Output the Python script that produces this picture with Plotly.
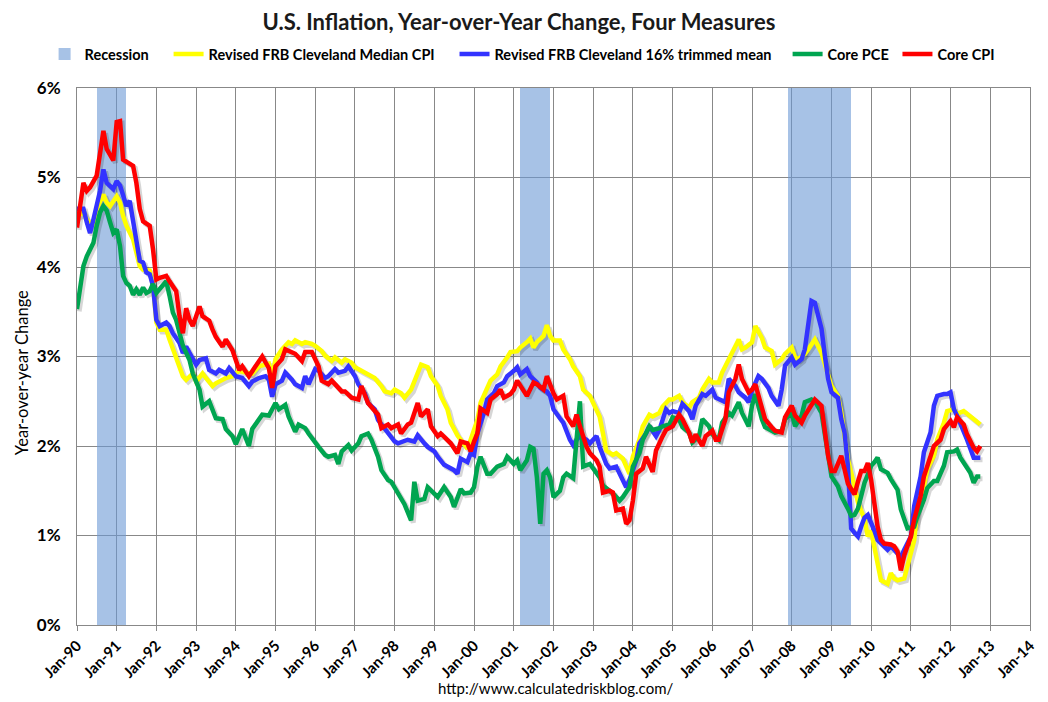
import pandas as pd
import plotly.graph_objects as go

# ---------------- data ----------------
recession_start = ["1990-07-01", "2001-03-01", "2007-12-01"]
recession_end = ["1991-04-01", "2001-12-01", "2009-06-28"]

median_dates = ["1990-01","1990-03","1990-04","1990-06","1990-07","1990-09","1990-10","1990-11","1991-01","1991-02","1991-03","1991-04","1991-06","1991-07","1991-08","1991-09","1991-11","1991-12","1992-01","1992-02","1992-04","1992-05","1992-06","1992-07","1992-09","1992-10","1992-12","1993-01","1993-03","1993-04","1993-06","1993-07","1993-09","1993-10","1993-12","1994-02","1994-04","1994-06","1994-08","1994-11","1994-12","1995-01","1995-03","1995-05","1995-06","1995-07","1995-09","1995-10","1995-12","1996-01","1996-03","1996-04","1996-06","1996-07","1996-09","1996-10","1996-12","1997-01","1997-03","1997-05","1997-07","1997-09","1997-10","1997-12","1998-01","1998-03","1998-04","1998-06","1998-08","1998-09","1998-11","1998-12","1999-02","1999-03","1999-05","1999-06","1999-08","1999-09","1999-11","1999-12","2000-02","2000-03","2000-05","2000-06","2000-08","2000-09","2000-11","2000-12","2001-02","2001-03","2001-05","2001-06","2001-07","2001-08","2001-10","2001-11","2001-12","2002-01","2002-03","2002-04","2002-06","2002-07","2002-09","2002-10","2002-12","2003-01","2003-03","2003-04","2003-05","2003-07","2003-08","2003-10","2003-11","2003-12","2004-01","2004-03","2004-04","2004-06","2004-07","2004-09","2004-10","2004-12","2005-01","2005-03","2005-04","2005-06","2005-07","2005-09","2005-10","2005-12","2006-01","2006-03","2006-04","2006-06","2006-07","2006-09","2006-10","2006-11","2007-01","2007-02","2007-04","2007-05","2007-07","2007-08","2007-10","2007-11","2008-01","2008-02","2008-03","2008-05","2008-06","2008-08","2008-10","2008-11","2008-12","2009-01","2009-03","2009-04","2009-05","2009-06","2009-08","2009-09","2009-11","2009-12","2010-01","2010-02","2010-03","2010-04","2010-06","2010-07","2010-08","2010-09","2010-11","2010-12","2011-02","2011-03","2011-05","2011-06","2011-08","2011-09","2011-11","2011-12","2012-02","2012-03","2012-05","2012-06","2012-08","2012-09","2012-10"]
median_vals = [4.57,4.61,4.53,4.46,4.65,4.81,4.72,4.68,4.79,4.72,4.57,4.46,4.31,4.16,4.01,3.97,3.96,3.79,3.38,3.30,3.30,3.19,3.08,3.00,2.78,2.74,2.81,2.72,2.81,2.76,2.67,2.70,2.74,2.76,2.78,2.84,2.82,2.81,2.89,2.92,2.78,2.97,3.08,3.16,3.14,3.18,3.14,3.16,3.14,3.12,3.06,3.01,2.95,2.99,2.93,2.97,2.93,2.88,2.84,2.80,2.76,2.67,2.61,2.59,2.63,2.59,2.54,2.63,2.82,2.91,2.88,2.78,2.67,2.56,2.41,2.26,2.12,2.07,1.97,2.07,2.29,2.48,2.63,2.73,2.80,2.89,2.99,3.05,3.06,3.10,3.16,3.20,3.10,3.16,3.23,3.35,3.23,3.18,3.18,3.08,2.97,2.89,2.78,2.63,2.56,2.48,2.33,2.14,1.95,1.90,1.92,1.86,1.77,1.69,1.88,2.07,2.22,2.35,2.33,2.37,2.44,2.52,2.52,2.56,2.49,2.43,2.49,2.54,2.63,2.75,2.71,2.71,2.82,2.97,3.03,3.19,3.08,3.10,3.16,3.34,3.21,3.10,3.06,2.91,2.97,3.03,3.10,2.99,2.97,3.03,3.08,3.19,3.04,2.90,2.78,2.67,2.56,2.37,2.11,1.85,1.55,1.37,1.18,0.99,1.05,0.88,0.69,0.50,0.46,0.58,0.52,0.50,0.52,0.65,0.95,1.29,1.55,1.74,1.89,2.07,2.26,2.39,2.41,2.36,2.39,2.36,2.30,2.26,2.24]

trimmed_dates = ["1990-01","1990-03","1990-04","1990-05","1990-06","1990-08","1990-09","1990-10","1990-12","1991-01","1991-02","1991-03","1991-04","1991-05","1991-06","1991-07","1991-08","1991-09","1991-10","1991-11","1991-12","1992-01","1992-02","1992-04","1992-05","1992-06","1992-08","1992-09","1992-10","1992-11","1993-01","1993-02","1993-04","1993-05","1993-07","1993-08","1993-10","1993-11","1994-01","1994-03","1994-05","1994-06","1994-08","1994-10","1994-11","1994-12","1995-01","1995-03","1995-04","1995-06","1995-07","1995-09","1995-10","1995-11","1996-01","1996-02","1996-04","1996-05","1996-07","1996-08","1996-10","1996-11","1997-01","1997-02","1997-04","1997-05","1997-07","1997-08","1997-10","1997-11","1998-01","1998-02","1998-04","1998-05","1998-07","1998-08","1998-10","1998-11","1999-01","1999-02","1999-04","1999-05","1999-07","1999-08","1999-09","1999-11","1999-12","2000-01","2000-02","2000-04","2000-05","2000-07","2000-08","2000-10","2000-11","2001-01","2001-02","2001-03","2001-05","2001-06","2001-08","2001-09","2001-11","2001-12","2002-01","2002-03","2002-04","2002-06","2002-07","2002-08","2002-09","2002-11","2002-12","2003-02","2003-03","2003-05","2003-06","2003-08","2003-09","2003-11","2003-12","2004-02","2004-03","2004-05","2004-06","2004-08","2004-09","2004-11","2004-12","2005-01","2005-03","2005-04","2005-06","2005-07","2005-08","2005-10","2005-11","2006-01","2006-02","2006-04","2006-05","2006-06","2006-08","2006-09","2006-11","2006-12","2007-01","2007-03","2007-04","2007-06","2007-07","2007-09","2007-10","2007-11","2008-01","2008-02","2008-04","2008-05","2008-06","2008-07","2008-08","2008-10","2008-11","2008-12","2009-01","2009-03","2009-04","2009-05","2009-06","2009-07","2009-08","2009-09","2009-10","2009-11","2009-12","2010-01","2010-02","2010-03","2010-04","2010-06","2010-07","2010-08","2010-10","2010-11","2011-01","2011-02","2011-04","2011-05","2011-07","2011-08","2011-09","2011-11","2011-12","2012-01","2012-02","2012-03","2012-05","2012-06","2012-08","2012-09","2012-10"]
trimmed_vals = [4.65,4.65,4.50,4.38,4.53,4.85,5.09,4.94,4.87,4.96,4.91,4.79,4.68,4.74,4.53,4.31,4.07,4.05,3.94,3.92,3.79,3.41,3.34,3.38,3.34,3.26,3.15,3.04,3.11,3.04,2.91,2.96,2.98,2.85,2.81,2.85,2.81,2.87,2.78,2.76,2.67,2.72,2.76,2.78,2.74,2.55,2.69,2.73,2.82,2.74,2.69,2.65,2.78,2.69,2.86,2.84,2.76,2.78,2.86,2.82,2.84,2.89,2.78,2.69,2.59,2.48,2.41,2.29,2.20,2.14,2.05,2.03,2.05,2.07,2.05,2.12,2.03,1.99,1.94,1.88,1.79,1.77,1.73,1.69,1.86,1.82,1.92,1.90,2.14,2.37,2.52,2.59,2.67,2.71,2.78,2.84,2.88,2.80,2.86,2.78,2.71,2.65,2.61,2.56,2.41,2.31,2.26,2.07,2.01,2.07,2.11,2.07,2.03,2.11,1.99,1.80,1.75,1.77,1.69,1.54,1.62,1.84,2.03,2.14,2.22,2.11,2.18,2.41,2.37,2.39,2.37,2.47,2.39,2.30,2.45,2.58,2.56,2.63,2.54,2.50,2.49,2.75,2.67,2.60,2.54,2.49,2.62,2.78,2.75,2.65,2.56,2.45,2.63,2.90,2.99,2.91,2.97,3.08,3.38,3.62,3.60,3.31,3.01,2.75,2.60,2.54,2.30,2.15,1.78,1.08,1.03,0.99,1.10,1.20,1.23,1.15,1.05,0.95,0.91,0.84,0.88,0.84,0.76,0.84,0.99,1.33,1.66,1.93,2.15,2.45,2.56,2.58,2.58,2.60,2.41,2.34,2.17,2.07,1.87,1.87,1.87]

pce_dates = ["1990-01","1990-03","1990-04","1990-06","1990-07","1990-08","1990-09","1990-10","1990-11","1990-12","1991-01","1991-02","1991-03","1991-04","1991-05","1991-06","1991-07","1991-08","1991-09","1991-10","1991-11","1991-12","1992-01","1992-02","1992-04","1992-05","1992-06","1992-07","1992-08","1992-09","1992-11","1992-12","1993-02","1993-03","1993-05","1993-06","1993-07","1993-09","1993-10","1993-12","1994-01","1994-03","1994-05","1994-06","1994-08","1994-09","1994-11","1995-01","1995-02","1995-04","1995-05","1995-07","1995-08","1995-10","1995-11","1996-01","1996-02","1996-04","1996-05","1996-07","1996-08","1996-09","1996-11","1996-12","1997-02","1997-03","1997-05","1997-06","1997-08","1997-09","1997-11","1997-12","1998-02","1998-03","1998-04","1998-06","1998-07","1998-08","1998-10","1998-11","1999-01","1999-02","1999-04","1999-06","1999-07","1999-09","1999-10","1999-12","2000-01","2000-02","2000-03","2000-05","2000-06","2000-08","2000-10","2000-11","2001-01","2001-02","2001-03","2001-05","2001-06","2001-07","2001-08","2001-09","2001-10","2001-11","2001-12","2002-01","2002-03","2002-04","2002-05","2002-07","2002-08","2002-09","2002-10","2002-12","2003-01","2003-03","2003-04","2003-06","2003-07","2003-09","2003-10","2003-12","2004-01","2004-03","2004-04","2004-06","2004-07","2004-09","2004-10","2004-12","2005-01","2005-03","2005-04","2005-06","2005-07","2005-09","2005-10","2005-12","2006-01","2006-03","2006-04","2006-06","2006-07","2006-09","2006-10","2006-12","2007-01","2007-02","2007-04","2007-05","2007-07","2007-08","2007-10","2007-11","2008-01","2008-02","2008-04","2008-05","2008-07","2008-08","2008-10","2008-11","2008-12","2009-01","2009-03","2009-04","2009-06","2009-07","2009-08","2009-09","2009-10","2009-11","2009-12","2010-01","2010-02","2010-03","2010-04","2010-06","2010-07","2010-09","2010-10","2010-11","2010-12","2011-02","2011-03","2011-05","2011-06","2011-08","2011-09","2011-11","2011-12","2012-02","2012-03","2012-04","2012-06","2012-07","2012-08","2012-09","2012-10"]
pce_vals = [3.53,4.01,4.12,4.27,4.46,4.61,4.68,4.63,4.50,4.38,4.42,4.23,3.90,3.82,3.79,3.69,3.75,3.69,3.77,3.71,3.73,3.81,3.71,3.75,3.84,3.68,3.49,3.41,3.26,3.12,2.96,2.81,2.63,2.44,2.50,2.41,2.31,2.30,2.19,2.11,2.02,2.19,2.00,2.19,2.30,2.35,2.34,2.48,2.41,2.46,2.33,2.16,2.24,2.20,2.14,2.03,1.99,1.90,1.88,1.90,1.80,1.94,2.01,1.95,2.03,2.11,2.14,2.07,1.88,1.73,1.62,1.60,1.48,1.43,1.35,1.17,1.60,1.39,1.41,1.54,1.47,1.43,1.54,1.43,1.32,1.52,1.47,1.48,1.54,1.77,1.88,1.69,1.69,1.77,1.80,1.88,1.80,1.84,1.73,1.84,1.99,1.97,1.65,1.13,1.69,1.73,1.65,1.43,1.50,1.65,1.69,1.64,2.07,2.50,1.77,1.80,1.75,1.65,1.56,1.50,1.47,1.39,1.43,1.54,1.77,1.92,2.07,2.22,2.18,2.20,2.22,2.24,2.32,2.30,2.21,2.15,2.04,2.11,2.30,2.22,2.13,2.07,2.26,2.37,2.34,2.49,2.37,2.22,2.45,2.58,2.30,2.21,2.17,2.15,2.17,2.30,2.37,2.22,2.34,2.49,2.52,2.50,2.37,2.15,1.93,1.66,1.55,1.44,1.30,1.22,1.23,1.30,1.44,1.59,1.68,1.78,1.82,1.87,1.74,1.70,1.63,1.51,1.29,1.18,1.08,1.10,1.21,1.40,1.53,1.61,1.61,1.78,1.93,1.94,1.96,1.87,1.74,1.70,1.59,1.66,1.66]

cpi_dates = ["1990-01","1990-03","1990-04","1990-05","1990-07","1990-08","1990-09","1990-10","1990-11","1990-12","1991-01","1991-02","1991-03","1991-05","1991-06","1991-07","1991-08","1991-09","1991-10","1991-11","1991-12","1992-01","1992-02","1992-04","1992-05","1992-07","1992-08","1992-09","1992-10","1992-11","1992-12","1993-02","1993-03","1993-05","1993-06","1993-07","1993-09","1993-10","1993-12","1994-02","1994-03","1994-05","1994-07","1994-09","1994-11","1994-12","1995-01","1995-03","1995-04","1995-06","1995-07","1995-09","1995-10","1995-12","1996-02","1996-03","1996-05","1996-06","1996-08","1996-09","1996-10","1996-12","1997-02","1997-03","1997-05","1997-06","1997-08","1997-09","1997-11","1997-12","1998-02","1998-03","1998-05","1998-06","1998-08","1998-09","1998-11","1998-12","1999-02","1999-03","1999-05","1999-06","1999-08","1999-09","1999-11","1999-12","2000-01","2000-02","2000-03","2000-05","2000-06","2000-08","2000-09","2000-10","2000-12","2001-01","2001-02","2001-04","2001-05","2001-07","2001-08","2001-10","2001-11","2002-01","2002-02","2002-04","2002-05","2002-07","2002-08","2002-09","2002-11","2002-12","2003-02","2003-03","2003-04","2003-06","2003-07","2003-08","2003-10","2003-11","2003-12","2004-01","2004-02","2004-04","2004-05","2004-07","2004-08","2004-10","2004-11","2005-01","2005-03","2005-04","2005-06","2005-07","2005-08","2005-10","2005-11","2006-01","2006-02","2006-03","2006-05","2006-06","2006-08","2006-09","2006-10","2006-12","2007-01","2007-02","2007-04","2007-05","2007-07","2007-08","2007-10","2007-11","2008-01","2008-02","2008-03","2008-04","2008-05","2008-07","2008-08","2008-10","2008-11","2008-12","2009-01","2009-02","2009-03","2009-04","2009-05","2009-06","2009-07","2009-08","2009-09","2009-10","2009-11","2009-12","2010-01","2010-02","2010-03","2010-04","2010-05","2010-07","2010-08","2010-09","2010-10","2010-11","2011-01","2011-02","2011-04","2011-05","2011-07","2011-08","2011-10","2011-11","2012-01","2012-02","2012-03","2012-05","2012-06","2012-08","2012-09","2012-10"]
cpi_vals = [4.44,4.94,4.85,4.89,5.02,5.32,5.52,5.32,5.26,5.19,5.62,5.63,5.20,5.15,5.13,4.94,4.65,4.51,4.48,4.46,4.20,3.86,3.88,3.90,3.84,3.73,3.45,3.26,3.54,3.41,3.34,3.56,3.45,3.40,3.30,3.22,3.11,3.19,3.07,2.85,2.89,2.78,2.89,3.00,2.87,2.65,2.89,2.97,3.08,3.05,3.03,2.95,3.05,3.05,2.89,2.73,2.69,2.73,2.65,2.61,2.61,2.54,2.52,2.67,2.48,2.44,2.35,2.20,2.24,2.20,2.24,2.14,2.24,2.26,2.48,2.33,2.41,2.22,2.11,2.14,2.07,2.03,1.92,2.05,2.03,1.94,2.05,2.14,2.42,2.37,2.52,2.58,2.63,2.54,2.58,2.63,2.73,2.61,2.56,2.71,2.69,2.63,2.78,2.59,2.52,2.56,2.33,2.22,2.35,2.22,1.99,1.92,1.84,1.77,1.48,1.50,1.48,1.28,1.30,1.13,1.17,1.39,1.69,1.75,1.88,1.71,1.95,2.11,2.18,2.22,2.35,2.30,2.15,2.04,2.13,2.00,2.11,2.17,2.07,2.07,2.30,2.60,2.75,2.91,2.75,2.60,2.63,2.69,2.45,2.30,2.21,2.17,2.15,2.32,2.45,2.34,2.30,2.26,2.34,2.45,2.52,2.45,2.19,1.89,1.72,1.72,1.80,1.89,1.74,1.58,1.52,1.46,1.60,1.72,1.72,1.81,1.62,1.30,1.10,0.95,0.91,0.90,0.88,0.82,0.61,0.78,0.99,1.18,1.44,1.66,1.89,2.00,2.07,2.19,2.28,2.21,2.32,2.24,2.13,1.98,1.94,2.00]

year_ticks = pd.date_range("1990-01-01", "2014-01-01", freq="YS")
tick_labels = [d.strftime("%b-%y") for d in year_ticks]
pct_ticks = [0, 1, 2, 3, 4, 5, 6]

# ---------------- figure ----------------
FONT = "Lato, 'Liberation Sans Narrow', 'DejaVu Sans Condensed', sans-serif"
X_RANGE = ["1990-01-01", "2014-01-01"]
Y_RANGE = [0, 6]
NB = "\u00a0"  # spacing between legend entries
fig = go.Figure()

rs = pd.to_datetime(recession_start)
re_ = pd.to_datetime(recession_end)
mids = [a + (b - a) / 2 for a, b in zip(rs, re_)]
widths = [(b - a).total_seconds() * 1000 for a, b in zip(rs, re_)]
fig.add_trace(go.Bar(
    x=mids, y=[6] * len(mids), width=widths, base=0,
    name="<b>Recession</b>" + NB * 4,
    marker=dict(color="rgba(108,153,213,0.6)", line=dict(width=0)),
    hoverinfo="skip"))

series = [
    ("Revised FRB Cleveland Median CPI", median_dates, median_vals, "#FFFF00", 4),
    ("Revised FRB Cleveland 16% trimmed mean", trimmed_dates, trimmed_vals, "#3333FF", 3),
    ("Core PCE", pce_dates, pce_vals, "#00A550", 1),
    ("Core CPI", cpi_dates, cpi_vals, "#FF0000", 0),
]
# soft drop shadows (same data, drawn on an overlay axis pair whose range is nudged by ~2px)
for name, d, v, c, g in series:
    fig.add_trace(go.Scatter(x=d, y=v, mode="lines", showlegend=False, hoverinfo="skip",
                             line=dict(color="rgba(0,0,0,0.16)", width=5),
                             xaxis="x2", yaxis="y2"))
for name, d, v, c, g in series:
    fig.add_trace(go.Scatter(x=d, y=v, mode="lines", name="<b>%s</b>" % name + NB * g,
                             line=dict(color=c, width=4.5), xaxis="x3", yaxis="y3"))

shift_x = pd.Timedelta(days=20)
x_shadow = [str((pd.Timestamp(X_RANGE[0]) - shift_x).date()),
            str((pd.Timestamp(X_RANGE[1]) - shift_x).date())]
y_shadow = [Y_RANGE[0] + 0.025, Y_RANGE[1] + 0.025]

fig.update_layout(
    width=1040, height=694,
    margin=dict(l=69, r=18, t=80, b=77, autoexpand=False),
    paper_bgcolor="white", plot_bgcolor="white",
    font=dict(family=FONT, color="#000000"),
    title=dict(text="<b>U.S. Inflation, Year-over-Year Change, Four Measures</b>",
               x=0.4913, xanchor="center", y=1 - 14.0 / 694, yanchor="middle",
               pad=dict(t=0, b=0, l=0, r=0),
               font=dict(size=22, color="#1a1a1a")),
    legend=dict(orientation="h", x=-0.034, xanchor="left", y=1.063, yanchor="middle",
                font=dict(size=14.5, color="#000"), bgcolor="rgba(0,0,0,0)",
                itemwidth=30, tracegroupgap=0),
    bargap=0,
    showlegend=True,
    xaxis2=dict(type="date", overlaying="x", range=x_shadow, visible=False),
    yaxis2=dict(overlaying="y", range=y_shadow, visible=False),
    xaxis3=dict(type="date", overlaying="x", range=X_RANGE, visible=False),
    yaxis3=dict(overlaying="y", range=Y_RANGE, visible=False),
)
fig.update_layout(
    xaxis=dict(
        type="date", range=X_RANGE, automargin=False,
        tickvals=year_ticks, ticktext=["<b>%s</b>" % t for t in tick_labels],
        tickangle=-45, tickfont=dict(size=15),
        showgrid=True, gridcolor="#888888", gridwidth=1,
        showline=True, linecolor="#888888", linewidth=1, mirror=True,
        ticks="outside", ticklen=5, tickcolor="#888888",
    ),
    yaxis=dict(
        range=Y_RANGE, automargin=False, tickvals=pct_ticks,
        ticktext=["<b>%d%%</b>" % t for t in pct_ticks],
        tickfont=dict(size=17), ticklabelstandoff=12,
        showgrid=True, gridcolor="#888888", gridwidth=1,
        showline=True, linecolor="#888888", linewidth=1, mirror=True,
        zeroline=False,
    ),
)
fig.add_annotation(text="Year-over-year Change", xref="paper", yref="paper",
                   x=-0.0577, y=0.469, xanchor="center", yanchor="middle", textangle=-90,
                   showarrow=False, font=dict(size=16.5, color="#000"))
fig.add_annotation(text="http://www.calculatedriskblog.com/", xref="paper", yref="paper",
                   x=0.5016, y=-0.1173, xanchor="center", yanchor="middle",
                   showarrow=False, font=dict(size=15, color="#000"))

fig.write_html("out.html")
